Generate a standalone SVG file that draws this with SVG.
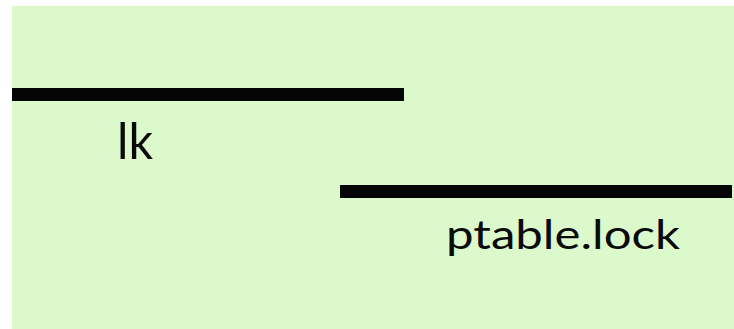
<svg xmlns="http://www.w3.org/2000/svg" width="734" height="329" viewBox="0 0 734 329">
  <style>
    .bar { fill: #050505; }
    .label { font-family: "Lato", "Open Sans", "Liberation Sans", sans-serif; fill: #0a0a0a; }
  </style>
  <rect x="0" y="0" width="734" height="329" fill="#ffffff"/>
  <rect x="12" y="6" width="722" height="323" fill="#dcf9cc"/>
  <g id="lk">
    <rect class="bar" x="12" y="88" width="392" height="13"/>
    <text class="label" x="117" y="159" font-size="50" textLength="36" lengthAdjust="spacingAndGlyphs">lk</text>
  </g>
  <g id="ptable-lock">
    <rect class="bar" x="340" y="185" width="392" height="13"/>
    <text class="label" x="446" y="249" font-size="41" textLength="234" lengthAdjust="spacingAndGlyphs">ptable.lock</text>
  </g>
</svg>
